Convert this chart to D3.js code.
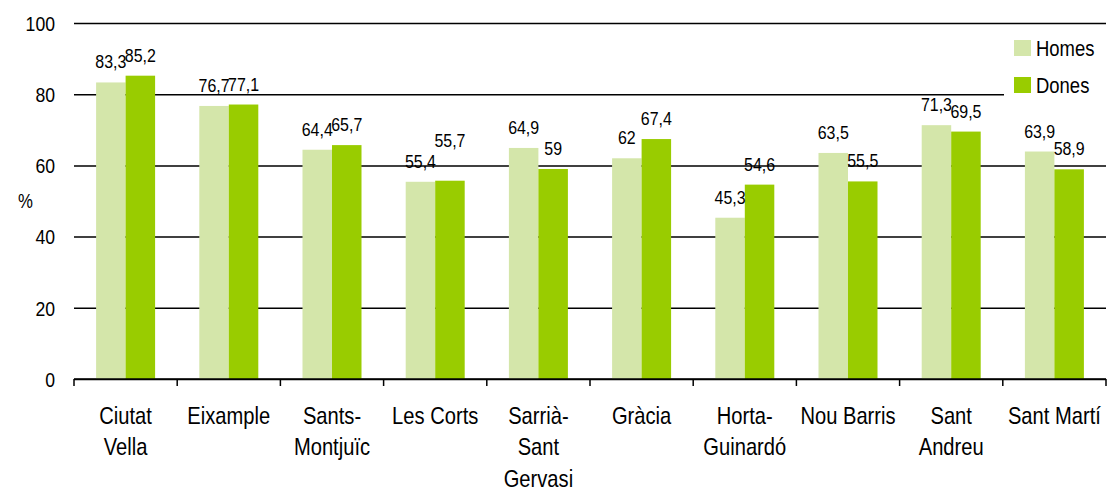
<!DOCTYPE html>
<html>
<head>
<meta charset="utf-8">
<script src="https://cdn.jsdelivr.net/npm/d3@7"></script>
<style>
  body { margin: 0; background: #fff; }
  svg text { font-family: "Liberation Sans", Arial, sans-serif; fill: #000; }
</style>
</head>
<body>
<div id="chart"></div>
<script>
// data
var districts = ["Ciutat Vella", "Eixample", "Sants-Montjuïc", "Les Corts", "Sarrià-Sant Gervasi",
  "Gràcia", "Horta-Guinardó", "Nou Barris", "Sant Andreu", "Sant Martí"];
var tickLines = [["Ciutat", "Vella"], ["Eixample"], ["Sants-", "Montjuïc"], ["Les Corts"],
  ["Sarrià-", "Sant", "Gervasi"], ["Gràcia"], ["Horta-", "Guinardó"], ["Nou Barris"],
  ["Sant", "Andreu"], ["Sant Martí"]];
var homes = [83.3, 76.7, 64.4, 55.4, 64.9, 62, 45.3, 63.5, 71.3, 63.9];
var dones = [85.2, 77.1, 65.7, 55.7, 59, 67.4, 54.6, 55.5, 69.5, 58.9];
var series = ["Homes", "Dones"];
var yTicks = [0, 20, 40, 60, 80, 100];

// label nudges (px, upward) for the odd Excel placements
var donesLabelLift = [0, 0, 0, 20, 0, 0, 0, 0, 0, 0];

// no narrow font installed, so squeeze the text sideways
var SQ = 0.84;
function squeeze(tx, ty) { return "translate(" + tx + "," + ty + ") scale(" + SQ + ",1)"; }

var margin = {top: 23, right: 1, bottom: 112, left: 74},
	width = 1107 - margin.left - margin.right,
	height = 491 - margin.top - margin.bottom;

var svg = d3.select("#chart")
	.append("svg")
		.attr("width", width + margin.left + margin.right)
		.attr("height", height + margin.top + margin.bottom)
	.append("g")
		.attr("transform", "translate(" + margin.left + "," + margin.top + ")");

var x = d3.scaleBand()
	.domain(districts)
	.range([0, width]);

var groupW = 59;
var xSub = d3.scaleBand()
	.domain(series)
	.range([(x.bandwidth() - groupW) / 2, (x.bandwidth() + groupW) / 2]);

var y = d3.scaleLinear()
	.domain([0, 100])
	.range([height, 0]);

var color = d3.scaleOrdinal()
	.domain(series)
	.range(["#d4e6aa", "#99cc00"]);

// gridlines + y labels
var yAxis = svg.append("g")
	.call(d3.axisLeft(y).tickValues(yTicks).tickSize(-width));
yAxis.select(".domain").remove();
yAxis.selectAll(".tick line").attr("stroke", "#000").attr("stroke-width", 1.5);
yAxis.selectAll(".tick text")
	.attr("x", 0)
	.attr("dy", "0.35em")
	.attr("font-size", "21px")
	.attr("transform", squeeze(-19, 0));

svg.append("text")
	.attr("transform", squeeze(-56, y(50)))
	.attr("dy", "0.35em")
	.attr("font-size", "20px")
	.text("%");

// rows of bars
var rows = districts.map(function(d, i) {
	return {name: d, vals: [
		{key: "Homes", value: homes[i], lift: 0},
		{key: "Dones", value: dones[i], lift: donesLabelLift[i]}
	]};
});

var grp = svg.append("g")
	.selectAll("g")
	.data(rows)
	.enter()
	.append("g")
		.attr("transform", function(d) { return "translate(" + x(d.name) + ",0)"; });

grp.selectAll("rect")
	.data(function(d) { return d.vals; })
	.enter().append("rect")
		.attr("x", function(d) { return xSub(d.key); })
		.attr("y", function(d) { return y(d.value); })
		.attr("width", xSub.bandwidth())
		.attr("height", function(d) { return height - y(d.value); })
		.attr("fill", function(d) { return color(d.key); });

grp.selectAll("text.val")
	.data(function(d) { return d.vals; })
	.enter().append("text")
		.attr("class", "val")
		.attr("transform", function(d) {
			return squeeze(xSub(d.key) + xSub.bandwidth() / 2, y(d.value) - 14 - d.lift);
		})
		.attr("text-anchor", "middle")
		.attr("font-size", "19px")
		.text(function(d) { return String(d.value).replace(".", ","); });

// x axis with ticks between the categories
var xAxis = svg.append("g")
	.attr("transform", "translate(0," + height + ")");
xAxis.append("line")
	.attr("x1", 0).attr("x2", width)
	.attr("stroke", "#000").attr("stroke-width", 1.5);
xAxis.selectAll("line.tk")
	.data(districts.concat(["end"]))
	.enter().append("line")
		.attr("class", "tk")
		.attr("x1", function(d) { return d === "end" ? width : x(d); })
		.attr("x2", function(d) { return d === "end" ? width : x(d); })
		.attr("y1", 0).attr("y2", 7)
		.attr("stroke", "#000").attr("stroke-width", 1.5);

var lbl = xAxis.selectAll("text.cat")
	.data(districts)
	.enter().append("text")
		.attr("class", "cat")
		.attr("text-anchor", "middle")
		.attr("font-size", "24px")
		.attr("transform", function(d) { return squeeze(x(d) + x.bandwidth() / 2, 45); });
lbl.selectAll("tspan")
	.data(function(d, i) { return tickLines[i]; })
	.enter().append("tspan")
		.attr("x", 0)
		.attr("y", function(d, j) { return j * 31.5; })
		.text(function(d) { return d; });

// legend
var leg = svg.append("g")
	.attr("transform", "translate(" + (1004 - margin.left) + "," + (5) + ")");
leg.append("rect")
	.attr("width", 103).attr("height", 76)
	.attr("fill", "#fff");
var li = leg.selectAll("g.item")
	.data(series)
	.enter().append("g")
		.attr("class", "item")
		.attr("transform", function(d, i) { return "translate(10," + (12 + i * 37) + ")"; });
li.append("rect")
	.attr("width", 17).attr("height", 16)
	.attr("fill", function(d) { return color(d); });
li.append("text")
	.attr("transform", squeeze(22, 8))
	.attr("dy", "0.35em")
	.attr("font-size", "22px")
	.text(function(d) { return d; });
</script>
</body>
</html>
